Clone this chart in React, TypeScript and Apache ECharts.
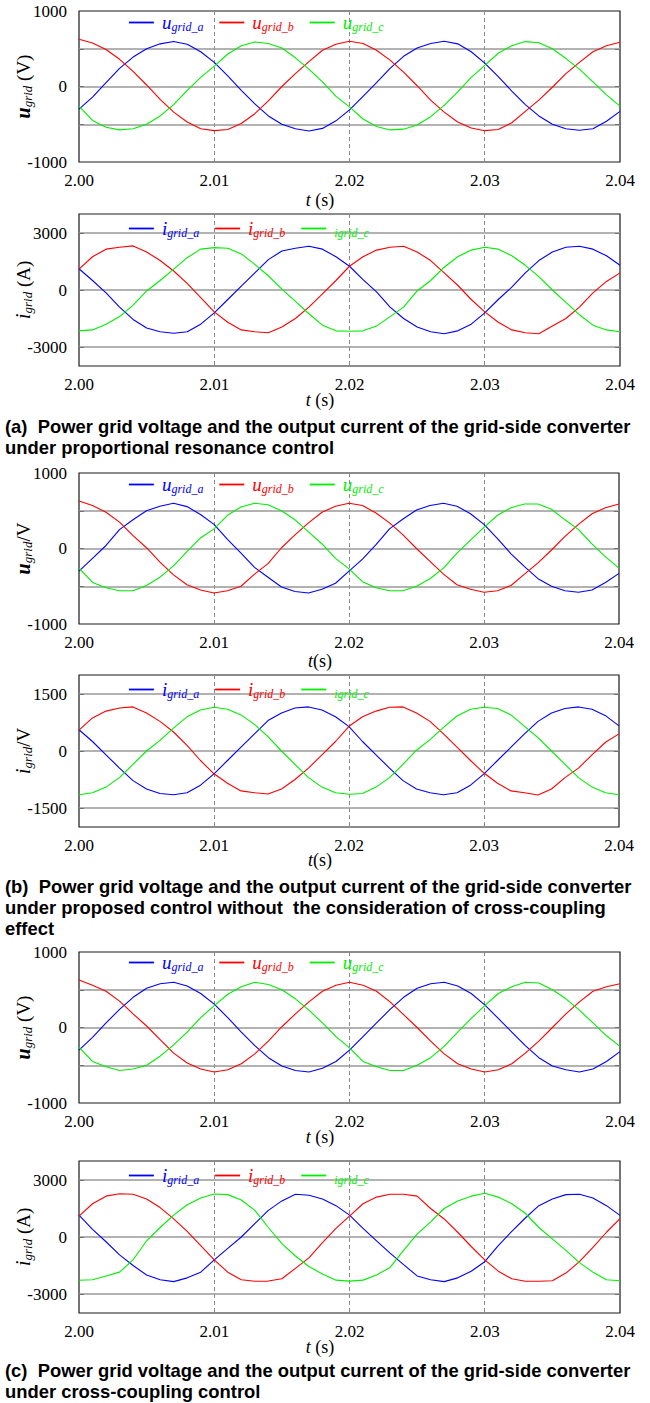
import React, { useEffect, useRef } from 'react';
import * as echarts from 'echarts';

// ---------- sampling grid (time, s) ----------
const T0 = 2.0;
const DT = 0.001;
const X_MIN = 2.0;
const X_MAX = 2.04;
const X_STEP = 0.01;

// ---------- (a) proportional resonance control ----------
const VA_A = [-300,-140,50,240,390,500,565,595,560,460,320,140,-50,-230,-390,-500,-560,-590,-555,-455,-310,-130,50,240,400,510,570,600,565,460,310,130,-60,-240,-390,-500,-560,-580,-560,-460,-330];
const VA_B = [625,575,490,360,200,20,-170,-340,-470,-560,-585,-570,-490,-360,-190,0,170,330,480,560,600,570,480,350,190,10,-180,-340,-470,-550,-585,-570,-480,-330,-180,-10,170,320,460,540,585];
const VA_C = [-260,-450,-540,-575,-560,-500,-390,-240,-50,120,270,430,540,590,570,510,380,230,60,-130,-270,-430,-530,-575,-565,-510,-400,-250,-70,120,280,440,540,595,580,500,370,230,60,-110,-260];
const IA_A = [1120,500,-150,-900,-1550,-2000,-2200,-2280,-2200,-1800,-1200,-500,200,900,1600,2050,2200,2300,2150,1750,1250,550,-100,-900,-1500,-1950,-2200,-2300,-2150,-1800,-1200,-500,150,900,1550,2000,2250,2300,2150,1800,1300];
const IA_B = [1100,1750,2150,2250,2320,2000,1550,1000,350,-400,-1150,-1700,-2100,-2200,-2250,-1950,-1500,-900,-200,500,1250,1750,2100,2250,2300,2000,1550,900,250,-500,-1150,-1700,-2100,-2250,-2300,-1900,-1500,-900,-150,450,900];
const IA_C = [-2150,-2100,-1800,-1400,-800,-50,500,1100,1700,2150,2230,2200,1900,1350,750,50,-600,-1250,-1850,-2150,-2170,-2150,-1900,-1400,-900,-50,500,1200,1750,2100,2250,2150,1800,1300,700,0,-650,-1300,-1850,-2100,-2200];

// ---------- (b) proposed control without cross-coupling ----------
const VB_A = [-300,-130,40,250,380,500,560,600,555,450,320,120,-60,-250,-380,-510,-570,-590,-540,-460,-300,-140,50,260,390,510,570,600,560,460,320,130,-70,-240,-400,-500,-560,-580,-550,-450,-330];
const VB_B = [630,570,480,350,170,10,-180,-350,-480,-550,-590,-560,-500,-340,-200,10,180,340,480,560,600,570,470,340,180,0,-170,-340,-480,-540,-580,-560,-490,-340,-190,-20,160,320,460,540,590];
const VB_C = [-260,-450,-520,-560,-560,-490,-380,-230,-40,140,260,440,550,600,580,500,380,220,60,-130,-270,-440,-520,-560,-560,-500,-400,-260,-60,110,280,440,540,590,590,520,380,250,60,-110,-260];
const IB_A = [560,250,-100,-450,-780,-1000,-1120,-1150,-1100,-900,-600,-250,100,450,800,1000,1130,1160,1080,900,640,250,-100,-450,-780,-1000,-1100,-1150,-1100,-900,-600,-250,100,450,780,1000,1120,1160,1100,930,660];
const IB_B = [550,870,1050,1130,1160,1000,780,500,150,-250,-600,-850,-1050,-1100,-1130,-1000,-750,-450,-100,250,650,900,1050,1150,1160,1000,780,450,100,-250,-580,-850,-1050,-1100,-1160,-1000,-700,-450,-100,230,450];
const IB_C = [-1150,-1100,-950,-700,-350,0,280,600,900,1080,1150,1100,950,700,380,0,-350,-700,-950,-1100,-1140,-1120,-950,-700,-350,20,300,620,920,1100,1150,1120,950,650,350,0,-350,-700,-950,-1100,-1150];

// ---------- (c) cross-coupling control ----------
const VC_A = [-300,-130,60,240,400,520,580,600,550,450,310,130,-60,-240,-400,-510,-570,-590,-540,-450,-300,-120,60,240,400,520,580,600,550,450,300,120,-60,-240,-400,-510,-560,-590,-550,-450,-320];
const VC_B = [630,560,480,350,180,20,-160,-340,-470,-550,-590,-560,-480,-350,-180,10,180,340,480,560,600,560,480,340,170,0,-180,-350,-480,-550,-590,-560,-480,-340,-180,0,180,340,480,540,580];
const VC_C = [-260,-450,-520,-570,-550,-500,-380,-230,-60,130,290,440,540,600,570,500,380,230,60,-120,-270,-450,-520,-570,-570,-500,-400,-250,-60,120,290,450,540,600,590,500,380,230,60,-110,-250];
const IC_A = [1150,400,-250,-940,-1500,-2000,-2250,-2350,-2150,-1850,-1200,-600,0,700,1400,1900,2250,2200,2000,1650,1150,450,-200,-850,-1450,-2050,-2250,-2350,-2150,-1800,-1300,-450,300,1000,1650,2000,2230,2250,2050,1650,1140];
const IC_B = [1100,1750,2150,2280,2250,2000,1550,950,300,-450,-1200,-1850,-2250,-2330,-2320,-2200,-1650,-1100,-300,450,1100,1750,2100,2250,2250,2150,1500,950,250,-500,-1200,-1800,-2200,-2330,-2330,-2300,-1900,-1300,-550,250,970];
const IC_C = [-2280,-2250,-2050,-1850,-1200,-200,500,1150,1700,2050,2260,2230,1950,1400,500,-350,-1000,-1550,-1950,-2270,-2320,-2270,-2000,-1600,-700,150,800,1500,1900,2150,2300,2100,1750,1250,500,-100,-700,-1350,-1850,-2250,-2300];

// ---------- tick labels / gridlines ----------
const X_TICK_LABELS = ['2.00', '2.01', '2.02', '2.03', '2.04'];
const U_LABELS = [-1000, 0, 1000];
const U_GRIDLINES = [-500, 0, 500];
const I_LABELS_AC = [-3000, 0, 3000];
const I_LABELS_B = [-1500, 0, 1500];

const U_NAMES = ['u_a', 'u_b', 'u_c'];
const I_NAMES = ['i_a', 'i_b', 'i_c'];

const CAPTIONS = [
  '(a)  Power grid voltage and the output current of the grid-side converter\nunder proportional resonance control',
  '(b)  Power grid voltage and the output current of the grid-side converter\nunder proposed control without  the consideration of cross-coupling\neffect',
  '(c)  Power grid voltage and the output current of the grid-side converter\nunder cross-coupling control',
];

// ---------- styles ----------
const SERIF = 'Liberation Serif';
const SANS = 'Liberation Sans';
const BLUE = '#0000ff';
const RED = '#ff0000';
const GREEN = '#00ee00';
const COLORS = [BLUE, RED, GREEN];

const LEGEND_TEXT: Record<string, string> = {
  u_a: '{bu|u}{bs|grid_a}',
  u_b: '{ru|u}{rs|grid_b}',
  u_c: '{gu|u}{gs|grid_c}',
  i_a: '{bu|i}{bs|grid_a}',
  i_b: '{ru|i}{rs|grid_b}',
  i_c: '{gx|igrid_c}',
};

function bigStyle(color: string) {
  return { color, fontFamily: SERIF, fontStyle: 'italic', fontSize: 19, lineHeight: 20, padding: [0, 0, 0, 3] };
}
function subStyle(color: string) {
  return { color, fontFamily: SERIF, fontStyle: 'italic', fontSize: 12, lineHeight: 10, verticalAlign: 'bottom' };
}
const LEGEND_RICH = {
  bu: bigStyle(BLUE), bs: subStyle(BLUE),
  ru: bigStyle(RED), rs: subStyle(RED),
  gu: bigStyle(GREEN), gs: subStyle(GREEN),
  gx: { color: GREEN, fontFamily: SERIF, fontStyle: 'italic', fontSize: 12, padding: [8, 0, 0, 3] },
};

const TICK_RICH = {
  a: { color: '#000', fontFamily: SERIF, fontSize: 17, lineHeight: 18 },
};

const NAME_RICH = {
  vu: { fill: '#000', fontFamily: SERIF, fontStyle: 'italic', fontWeight: 'bold', fontSize: 20, lineHeight: 22 },
  vi: { fill: '#000', fontFamily: SERIF, fontStyle: 'italic', fontSize: 21, lineHeight: 22 },
  s: { fill: '#000', fontFamily: SERIF, fontStyle: 'italic', fontSize: 13, lineHeight: 10, verticalAlign: 'bottom' },
  n: { fill: '#000', fontFamily: SERIF, fontSize: 19, lineHeight: 22 },
  t: { fill: '#000', fontFamily: SERIF, fontStyle: 'italic', fontSize: 18, lineHeight: 20 },
  m: { fill: '#000', fontFamily: SERIF, fontSize: 18, lineHeight: 20 },
};

// ---------- layout of the six panels ----------
const PANELS = [
  { top: 11, h: 151, w: 541, names: U_NAMES, values: [VA_A, VA_B, VA_C], min: -1000, max: 1000, step: 500, labels: U_LABELS, gridlines: U_GRIDLINES, yName: '{vu|u}{s|grid}{n| (V)}', tName: '{t|t}{m| (s)}', tY: 200, legendTop: 13 },
  { top: 214, h: 152, w: 541, names: I_NAMES, values: [IA_A, IA_B, IA_C], min: -4000, max: 4000, step: 1000, labels: I_LABELS_AC, gridlines: I_LABELS_AC, yName: '{vi|i}{s|grid}{n| (A)}', tName: '{t|t}{m| (s)}', tY: 400, legendTop: 219 },
  { top: 473, h: 151, w: 540, names: U_NAMES, values: [VB_A, VB_B, VB_C], min: -1000, max: 1000, step: 500, labels: U_LABELS, gridlines: U_GRIDLINES, yName: '{vu|u}{s|grid}{n|/V}', tName: '{t|t}{m|(s)}', tY: 661, legendTop: 475 },
  { top: 675, h: 152, w: 540, names: I_NAMES, values: [IB_A, IB_B, IB_C], min: -2000, max: 2000, step: 500, labels: I_LABELS_B, gridlines: I_LABELS_B, yName: '{vi|i}{s|grid}{n|/V}', tName: '{t|t}{m|(s)}', tY: 860, legendTop: 680 },
  { top: 952, h: 151, w: 541, names: U_NAMES, values: [VC_A, VC_B, VC_C], min: -1000, max: 1000, step: 500, labels: U_LABELS, gridlines: U_GRIDLINES, yName: '{vu|u}{s|grid}{n| (V)}', tName: '{t|t}{m| (s)}', tY: 1137, legendTop: 953 },
  { top: 1161, h: 152, w: 541, names: I_NAMES, values: [IC_A, IC_B, IC_C], min: -4000, max: 4000, step: 1000, labels: I_LABELS_AC, gridlines: I_LABELS_AC, yName: '{vi|i}{s|grid}{n| (A)}', tName: '{t|t}{m| (s)}', tY: 1347, legendTop: 1166 },
];
const CAPTION_TOPS = [416, 876, 1360];

const T = VA_A.map((_, i) => Math.round((T0 + i * DT) * 1000) / 1000);

function buildOption() {
  const grid: any[] = [];
  const xAxis: any[] = [];
  const yAxis: any[] = [];
  const series: any[] = [];
  const legend: any[] = [];
  const graphic: any[] = [];

  PANELS.forEach((p, i) => {
    grid.push({ left: 79, top: p.top, width: p.w, height: p.h, show: true, borderColor: '#1a1a1a', borderWidth: 1.2 });
    xAxis.push({
      type: 'value', gridIndex: i, min: X_MIN, max: X_MAX, interval: X_STEP,
      axisLine: { show: false }, axisTick: { show: false },
      axisLabel: {
        margin: 9, rich: TICK_RICH,
        formatter: (v: number) => '{a|' + (X_TICK_LABELS[Math.round((v - X_MIN) / X_STEP)] ?? v.toFixed(2)) + '}',
      },
      splitLine: { show: true, showMinLine: false, showMaxLine: false, lineStyle: { color: '#888', width: 1, type: [4, 3] } },
    });
    const yBase = {
      type: 'value', gridIndex: i, min: p.min, max: p.max, interval: p.step,
      axisLine: { show: false },
      axisTick: { show: true, inside: true, length: 5, customValues: p.gridlines, lineStyle: { color: '#000', width: 1 } },
      splitLine: { show: false },
    };
    yAxis.push({
      ...yBase, position: 'left',
      axisLabel: {
        margin: 12, rich: TICK_RICH,
        formatter: (v: number) => (p.labels.indexOf(v) >= 0 ? '{a|' + String(v) + '}' : ''),
      },
    });
    yAxis.push({ ...yBase, position: 'right', axisLabel: { show: false } });

    // horizontal gridlines
    series.push({
      type: 'line', name: '', xAxisIndex: i, yAxisIndex: 2 * i, data: [], silent: true, z: 1,
      markLine: {
        silent: true, z: 1, symbol: ['none', 'none'], label: { show: false },
        lineStyle: { color: '#999', width: 1.5, type: 'solid' },
        data: p.gridlines.map((v) => ({ yAxis: v })),
      },
    });
    p.values.forEach((vals, j) => {
      series.push({
        type: 'line', name: p.names[j], xAxisIndex: i, yAxisIndex: 2 * i,
        data: T.map((t, k) => [t, vals[k]]),
        symbol: 'none', showSymbol: false, silent: true, z: 2 + j,
        lineStyle: { color: COLORS[j], width: 1.1 }, itemStyle: { color: COLORS[j] },
      });
    });
    legend.push({
      left: 128, top: p.legendTop, padding: 0, itemWidth: 25, itemHeight: 14, itemGap: 15,
      selectedMode: false, data: p.names,
      itemStyle: { opacity: 0, borderWidth: 0 },
      lineStyle: { width: 1.8 },
      formatter: (n: string) => LEGEND_TEXT[n],
      textStyle: { rich: LEGEND_RICH },
    });
    graphic.push({
      type: 'text', x: 23, y: p.top + p.h / 2, rotation: Math.PI / 2,
      style: { text: p.yName, rich: NAME_RICH, fill: '#000', align: 'center', verticalAlign: 'middle' },
    });
    graphic.push({
      type: 'text', x: 320, y: p.tY,
      style: { text: p.tName, rich: NAME_RICH, fill: '#000', align: 'center', verticalAlign: 'middle' },
    });
  });

  CAPTIONS.forEach((c, i) => {
    graphic.push({
      type: 'text', x: 5, y: CAPTION_TOPS[i],
      style: { text: c, fill: '#000', fontFamily: SANS, fontWeight: 'bold', fontSize: 18.4, lineHeight: 21, align: 'left', verticalAlign: 'top' },
    });
  });

  return { animation: false, backgroundColor: '#fff', grid, xAxis, yAxis, series, legend, graphic };
}

export default function App() {
  const ref = useRef<HTMLDivElement>(null);
  useEffect(() => {
    const chart = echarts.init(ref.current as HTMLDivElement, null, { renderer: 'svg', width: 650, height: 1403 });
    chart.setOption(buildOption() as any);
    return () => chart.dispose();
  }, []);
  return <div ref={ref} style={{ position: 'absolute', left: 0, top: 0, width: 650, height: 1403, background: '#fff' }} />;
}
